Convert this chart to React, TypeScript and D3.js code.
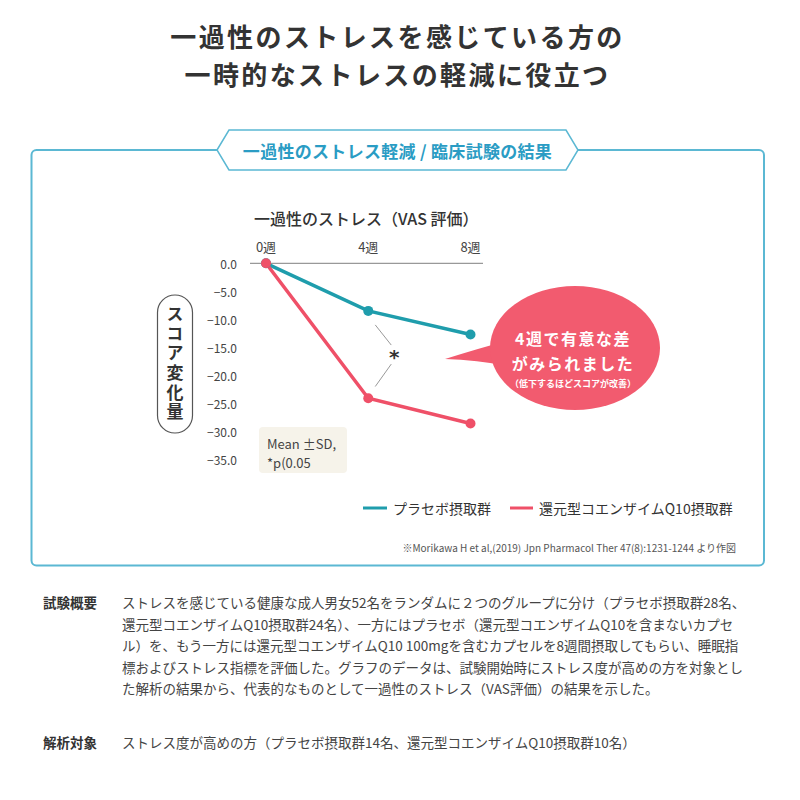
import React from "react";
import * as d3 from "d3";

const titleLines = ["一過性のストレスを感じている方の", "一時的なストレスの軽減に役立つ"];
const headerLabel = "一過性のストレス軽減 / 臨床試験の結果";
const chartTitle = "一過性のストレス（VAS 評価）";
const weeks = [0, 4, 8];
const weekLabels = ["0週", "4週", "8週"];
const yTicks = [0, -5, -10, -15, -20, -25, -30, -35];
const placebo = [0, -8.5, -12.7];
const coq10 = [0, -24.1, -28.6];
const seriesNames = ["プラセボ摂取群", "還元型コエンザイムQ10摂取群"];
const yLabel = "スコア変化量";
const noteLines = ["Mean ±SD,", "*p(0.05"];
const bubbleLines = ["4週で有意な差", "がみられました", "（低下するほどスコアが改善）"];
const footnote = "※Morikawa H et al,(2019) Jpn Pharmacol Ther 47(8):1231-1244 より作図";
const summaryLabel = "試験概要";
const summaryLines = [
  "ストレスを感じている健康な成人男女52名をランダムに２つのグループに分け（プラセボ摂取群28名、",
  "還元型コエンザイムQ10摂取群24名）、一方にはプラセボ（還元型コエンザイムQ10を含まないカプセ",
  "ル）を、もう一方には還元型コエンザイムQ10 100mgを含むカプセルを8週間摂取してもらい、睡眠指",
  "標およびストレス指標を評価した。グラフのデータは、試験開始時にストレス度が高めの方を対象とし",
  "た解析の結果から、代表的なものとして一過性のストレス（VAS評価）の結果を示した。",
];
const targetLabel = "解析対象";
const targetLine = "ストレス度が高めの方（プラセボ摂取群14名、還元型コエンザイムQ10摂取群10名）";

const TEAL = "#1f9dac";
const RED = "#ef5068";
const BLUE = "#5bb8d3";
const FONT = "'Noto Sans CJK JP', 'Noto Sans', sans-serif";

export default function App() {
  const x = d3.scaleLinear().domain([0, 8]).range([266, 470.5]);
  const y = d3.scaleLinear().domain([0, -35]).range([263.3, 459.3]);
  const line = d3
    .line<number>()
    .x((_, i) => x(weeks[i]))
    .y((d) => y(d));
  const fmt = d3.format(".1f");
  const x4 = x(4);

  const cx = 397.5;
  const hexL = 217, hexR = 578, hexT = 130, hexB = 170, hexM = 150;
  const hexPts = [
    [hexL, hexM], [hexL + 12, hexT], [hexR - 12, hexT], [hexR, hexM], [hexR - 12, hexB], [hexL + 12, hexB],
  ].map((p) => p.join(",")).join(" ");

  return (
    <svg width={800} height={800} style={{ position: "absolute", left: 0, top: 0, fontFamily: FONT }}>
      <rect x={0} y={0} width={800} height={800} fill="#fff" />
      {titleLines.map((t, i) => (
        <text key={i} x={cx} y={35 + i * 38} textAnchor="middle" dominantBaseline="central"
          fontSize={26} fontWeight={700} fill="#333" letterSpacing={2.4}>{t}</text>
      ))}

      <rect x={31.5} y={150} width={732.5} height={415.5} rx={5} fill="none" stroke={BLUE} strokeWidth={2} />
      <polygon points={hexPts} fill="#fff" stroke={BLUE} strokeWidth={1.5} />
      <text x={cx} y={hexM} textAnchor="middle" dominantBaseline="central" fontSize={17} fontWeight={700}
        fill="#2a9cc4" letterSpacing={0.3}>{headerLabel}</text>

      <text x={254} y={218} dominantBaseline="central" fontSize={16} fontWeight={500} fill="#333">{chartTitle}</text>
      {weeks.map((w, i) => (
        <text key={w} x={x(w)} y={246} textAnchor="middle" dominantBaseline="central" fontSize={13} fill="#444">
          {weekLabels[i]}
        </text>
      ))}
      <line x1={250} x2={483} y1={y(0)} y2={y(0)} stroke="#999" strokeWidth={1.2} />
      {yTicks.map((t) => (
        <text key={t} x={237} y={y(t)} textAnchor="end" dominantBaseline="central" fontSize={12} fill="#444">
          {fmt(t)}
        </text>
      ))}

      <rect x={157.5} y={295} width={35} height={138} rx={17.5} fill="none" stroke="#555" strokeWidth={1.2} />
      <text x={175} y={364} textAnchor="middle" fontSize={17} fontWeight={700} fill="#333"
        letterSpacing={2.7} style={{ writingMode: "vertical-rl" }}>{yLabel}</text>

      <rect x={259} y={427} width={88} height={46} rx={4} fill="#f6f3ea" />
      {noteLines.map((t, i) => (
        <text key={i} x={267} y={443 + i * 19} dominantBaseline="central" fontSize={13} fill="#444">{t}</text>
      ))}

      <line x1={x4 + 7} y1={y(-11)} x2={x4 + 23} y2={y(-14.6)} stroke="#999" strokeWidth={1} />
      <line x1={x4 + 23} y1={y(-18)} x2={x4 + 7} y2={y(-22)} stroke="#999" strokeWidth={1} />
      <text x={x4 + 26} y={y(-16.8)} textAnchor="middle" dominantBaseline="central" fontSize={20} fontWeight={700}
        fill="#333" fontFamily="DejaVu Sans">*</text>

      <path d={line(placebo) ?? ""} fill="none" stroke={TEAL} strokeWidth={3.5} />
      <path d={line(coq10) ?? ""} fill="none" stroke={RED} strokeWidth={3.5} />
      {placebo.map((v, i) => (
        <circle key={"p" + i} cx={x(weeks[i])} cy={y(v)} r={5} fill={TEAL} />
      ))}
      {coq10.map((v, i) => (
        <circle key={"c" + i} cx={x(weeks[i])} cy={y(v)} r={5} fill={RED} />
      ))}

      <path d="M445,359 Q480,348 510,340 L514,367 Q478,360 445,359 Z" fill="#f25b6f" />
      <ellipse cx={575} cy={348} rx={85} ry={62} fill="#f25b6f" />
      <text x={573} y={338} textAnchor="middle" dominantBaseline="central" fontSize={16} fontWeight={700}
        fill="#fff" letterSpacing={1.5}>{bubbleLines[0]}</text>
      <text x={573} y={363} textAnchor="middle" dominantBaseline="central" fontSize={16} fontWeight={700}
        fill="#fff" letterSpacing={1.5}>{bubbleLines[1]}</text>
      <text x={573} y={383} textAnchor="middle" dominantBaseline="central" fontSize={9} fontWeight={700}
        fill="#fff">{bubbleLines[2]}</text>

      <line x1={363} x2={387} y1={508} y2={508} stroke={TEAL} strokeWidth={3} />
      <text x={393} y={508} dominantBaseline="central" fontSize={14} fill="#333">{seriesNames[0]}</text>
      <line x1={510} x2={533} y1={508} y2={508} stroke={RED} strokeWidth={3} />
      <text x={539} y={508} dominantBaseline="central" fontSize={14} fill="#333">{seriesNames[1]}</text>
      <text x={736} y={547} textAnchor="end" dominantBaseline="central" fontSize={10} fill="#555">{footnote}</text>

      <text x={43} y={602} dominantBaseline="central" fontSize={13.5} fontWeight={700} fill="#333">{summaryLabel}</text>
      {summaryLines.map((t, i) => (
        <text key={i} x={122} y={602 + i * 21.6} dominantBaseline="central" fontSize={13.5} fill="#444">{t}</text>
      ))}
      <text x={43} y={742} dominantBaseline="central" fontSize={13.5} fontWeight={700} fill="#333">{targetLabel}</text>
      <text x={122} y={742} dominantBaseline="central" fontSize={13.5} fill="#444">{targetLine}</text>
    </svg>
  );
}
